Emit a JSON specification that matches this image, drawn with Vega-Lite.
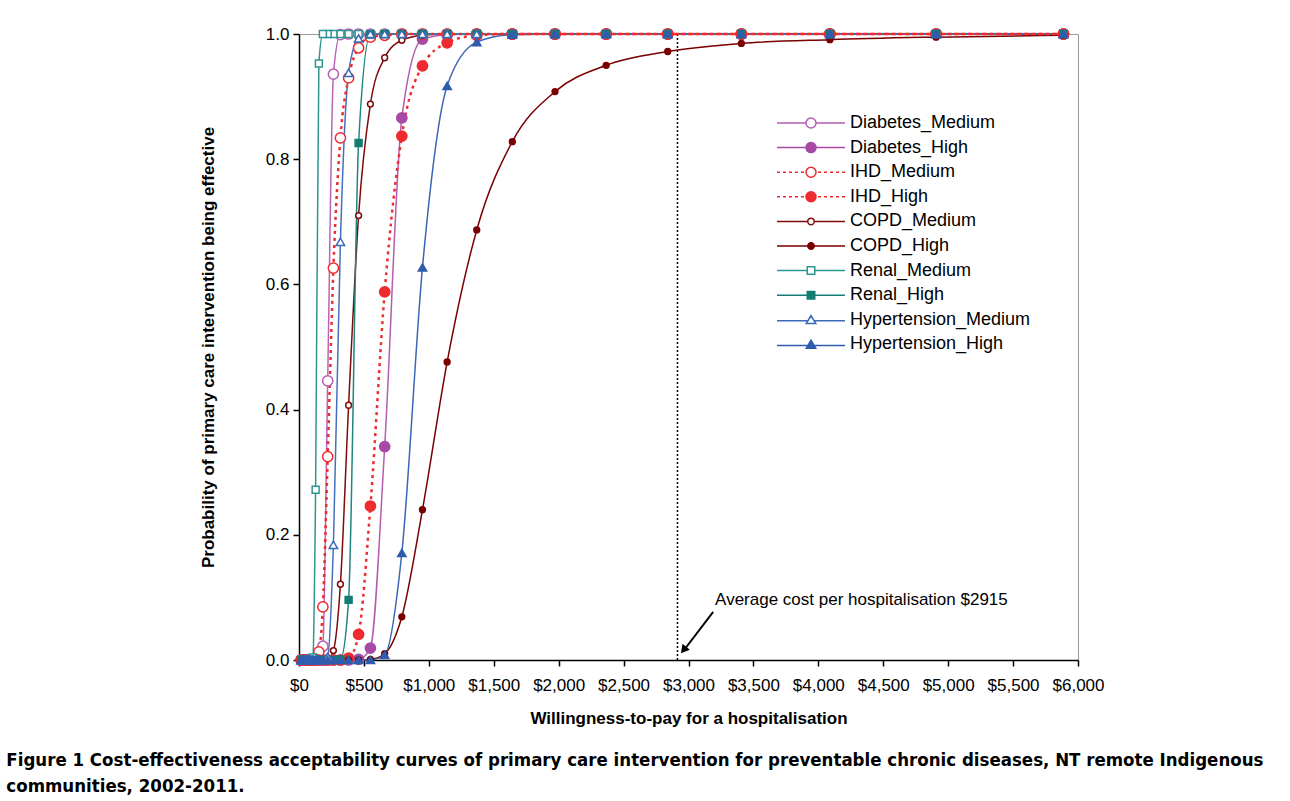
{
  "$schema": "https://vega.github.io/schema/vega-lite/v6.json",
  "width": 779,
  "height": 626,
  "autosize": {"type": "none"},
  "padding": {"left": 299, "top": 34, "right": 212, "bottom": 141},
  "background": "white",
  "config": {
    "view": {"stroke": "#9a9a9a", "strokeWidth": 1},
    "legend": {
      "orient": "none",
      "legendX": 503,
      "legendY": 80,
      "padding": 0,
      "labelFont": "Liberation Sans",
      "labelFontSize": 18,
      "labelColor": "#000000",
      "labelLimit": 0,
      "rowPadding": 6.6,
      "labelOffset": 30,
      "symbolSize": 100,
      "symbolOpacity": 1,
      "symbolStrokeWidth": 1.5
    }
  },
  "title": {
    "text": ["Figure 1 Cost-effectiveness acceptability curves of primary care intervention for preventable chronic diseases, NT remote Indigenous", "communities, 2002-2011."],
    "orient": "bottom",
    "anchor": "start",
    "frame": "bounds",
    "font": "DejaVu Sans Condensed, sans-serif",
    "fontSize": 18.5,
    "fontWeight": "bold",
    "lineHeight": 26,
    "offset": 25,
    "dx": -193,
    "color": "#000000"
  },
  "datasets": {
    "cea": [
      {"x": 5888, "Diabetes_Medium": 1, "Diabetes_High": 1, "IHD_Medium": 1, "IHD_High": 1, "COPD_Medium": 1, "COPD_High": 0.998, "Renal_Medium": 1, "Renal_High": 1, "Hypertension_Medium": 1, "Hypertension_High": 1},
      {"x": 4907, "Diabetes_Medium": 1, "Diabetes_High": 1, "IHD_Medium": 1, "IHD_High": 1, "COPD_Medium": 1, "COPD_High": 0.995, "Renal_Medium": 1, "Renal_High": 1, "Hypertension_Medium": 1, "Hypertension_High": 1},
      {"x": 4089, "Diabetes_Medium": 1, "Diabetes_High": 1, "IHD_Medium": 1, "IHD_High": 1, "COPD_Medium": 1, "COPD_High": 0.991, "Renal_Medium": 1, "Renal_High": 1, "Hypertension_Medium": 1, "Hypertension_High": 1},
      {"x": 3407, "Diabetes_Medium": 1, "Diabetes_High": 1, "IHD_Medium": 1, "IHD_High": 1, "COPD_Medium": 1, "COPD_High": 0.985, "Renal_Medium": 1, "Renal_High": 1, "Hypertension_Medium": 1, "Hypertension_High": 1},
      {"x": 2840, "Diabetes_Medium": 1, "Diabetes_High": 1, "IHD_Medium": 1, "IHD_High": 1, "COPD_Medium": 1, "COPD_High": 0.972, "Renal_Medium": 1, "Renal_High": 1, "Hypertension_Medium": 1, "Hypertension_High": 1},
      {"x": 2366, "Diabetes_Medium": 1, "Diabetes_High": 1, "IHD_Medium": 1, "IHD_High": 1, "COPD_Medium": 1, "COPD_High": 0.95, "Renal_Medium": 1, "Renal_High": 1, "Hypertension_Medium": 1, "Hypertension_High": 1},
      {"x": 1972, "Diabetes_Medium": 1, "Diabetes_High": 1, "IHD_Medium": 1, "IHD_High": 1, "COPD_Medium": 1, "COPD_High": 0.908, "Renal_Medium": 1, "Renal_High": 1, "Hypertension_Medium": 1, "Hypertension_High": 1},
      {"x": 1643, "Diabetes_Medium": 1, "Diabetes_High": 1, "IHD_Medium": 1, "IHD_High": 1, "COPD_Medium": 1, "COPD_High": 0.828, "Renal_Medium": 1, "Renal_High": 1, "Hypertension_Medium": 1, "Hypertension_High": 0.999},
      {"x": 1369, "Diabetes_Medium": 1, "Diabetes_High": 1, "IHD_Medium": 1, "IHD_High": 0.998, "COPD_Medium": 1, "COPD_High": 0.687, "Renal_Medium": 1, "Renal_High": 1, "Hypertension_Medium": 1, "Hypertension_High": 0.987},
      {"x": 1141, "Diabetes_Medium": 1, "Diabetes_High": 0.999, "IHD_Medium": 1, "IHD_High": 0.986, "COPD_Medium": 1, "COPD_High": 0.476, "Renal_Medium": 1, "Renal_High": 1, "Hypertension_Medium": 1, "Hypertension_High": 0.917},
      {"x": 951, "Diabetes_Medium": 1, "Diabetes_High": 0.992, "IHD_Medium": 1, "IHD_High": 0.949, "COPD_Medium": 0.998, "COPD_High": 0.24, "Renal_Medium": 1, "Renal_High": 1, "Hypertension_Medium": 1, "Hypertension_High": 0.627},
      {"x": 792, "Diabetes_Medium": 1, "Diabetes_High": 0.866, "IHD_Medium": 1, "IHD_High": 0.837, "COPD_Medium": 0.99, "COPD_High": 0.069, "Renal_Medium": 1, "Renal_High": 1, "Hypertension_Medium": 1, "Hypertension_High": 0.171},
      {"x": 660, "Diabetes_Medium": 1, "Diabetes_High": 0.341, "IHD_Medium": 0.998, "IHD_High": 0.588, "COPD_Medium": 0.962, "COPD_High": 0.01, "Renal_Medium": 1, "Renal_High": 1, "Hypertension_Medium": 1, "Hypertension_High": 0.008},
      {"x": 550, "Diabetes_Medium": 1, "Diabetes_High": 0.019, "IHD_Medium": 0.995, "IHD_High": 0.246, "COPD_Medium": 0.888, "COPD_High": 0.001, "Renal_Medium": 1, "Renal_High": 0.999, "Hypertension_Medium": 1, "Hypertension_High": 0},
      {"x": 459, "Diabetes_Medium": 1, "Diabetes_High": 0.001, "IHD_Medium": 0.978, "IHD_High": 0.041, "COPD_Medium": 0.71, "COPD_High": 0, "Renal_Medium": 1, "Renal_High": 0.826, "Hypertension_Medium": 0.993, "Hypertension_High": 0},
      {"x": 382, "Diabetes_Medium": 1, "Diabetes_High": 0, "IHD_Medium": 0.93, "IHD_High": 0.003, "COPD_Medium": 0.407, "COPD_High": 0, "Renal_Medium": 1, "Renal_High": 0.096, "Hypertension_Medium": 0.938, "Hypertension_High": 0},
      {"x": 319, "Diabetes_Medium": 0.999, "Diabetes_High": 0, "IHD_Medium": 0.834, "IHD_High": 0, "COPD_Medium": 0.121, "COPD_High": 0, "Renal_Medium": 1, "Renal_High": 0.001, "Hypertension_Medium": 0.668, "Hypertension_High": 0},
      {"x": 265, "Diabetes_Medium": 0.936, "Diabetes_High": 0, "IHD_Medium": 0.626, "IHD_High": 0, "COPD_Medium": 0.015, "COPD_High": 0, "Renal_Medium": 1, "Renal_High": 0, "Hypertension_Medium": 0.184, "Hypertension_High": 0},
      {"x": 221, "Diabetes_Medium": 0.446, "Diabetes_High": 0, "IHD_Medium": 0.325, "IHD_High": 0, "COPD_Medium": 0.001, "COPD_High": 0, "Renal_Medium": 1, "Renal_High": 0, "Hypertension_Medium": 0.005, "Hypertension_High": 0},
      {"x": 184, "Diabetes_Medium": 0.022, "Diabetes_High": 0, "IHD_Medium": 0.085, "IHD_High": 0, "COPD_Medium": 0, "COPD_High": 0, "Renal_Medium": 1, "Renal_High": 0, "Hypertension_Medium": 0, "Hypertension_High": 0},
      {"x": 153, "Diabetes_Medium": 0.001, "Diabetes_High": 0, "IHD_Medium": 0.013, "IHD_High": 0, "COPD_Medium": 0, "COPD_High": 0, "Renal_Medium": 0.953, "Renal_High": 0, "Hypertension_Medium": 0, "Hypertension_High": 0},
      {"x": 128, "Diabetes_Medium": 0, "Diabetes_High": 0, "IHD_Medium": 0.001, "IHD_High": 0, "COPD_Medium": 0, "COPD_High": 0, "Renal_Medium": 0.272, "Renal_High": 0, "Hypertension_Medium": 0, "Hypertension_High": 0},
      {"x": 107, "Diabetes_Medium": 0, "Diabetes_High": 0, "IHD_Medium": 0, "IHD_High": 0, "COPD_Medium": 0, "COPD_High": 0, "Renal_Medium": 0.004, "Renal_High": 0, "Hypertension_Medium": 0, "Hypertension_High": 0},
      {"x": 89, "Diabetes_Medium": 0, "Diabetes_High": 0, "IHD_Medium": 0, "IHD_High": 0, "COPD_Medium": 0, "COPD_High": 0, "Renal_Medium": 0, "Renal_High": 0, "Hypertension_Medium": 0, "Hypertension_High": 0},
      {"x": 74, "Diabetes_Medium": 0, "Diabetes_High": 0, "IHD_Medium": 0, "IHD_High": 0, "COPD_Medium": 0, "COPD_High": 0, "Renal_Medium": 0, "Renal_High": 0, "Hypertension_Medium": 0, "Hypertension_High": 0},
      {"x": 62, "Diabetes_Medium": 0, "Diabetes_High": 0, "IHD_Medium": 0, "IHD_High": 0, "COPD_Medium": 0, "COPD_High": 0, "Renal_Medium": 0, "Renal_High": 0, "Hypertension_Medium": 0, "Hypertension_High": 0},
      {"x": 52, "Diabetes_Medium": 0, "Diabetes_High": 0, "IHD_Medium": 0, "IHD_High": 0, "COPD_Medium": 0, "COPD_High": 0, "Renal_Medium": 0, "Renal_High": 0, "Hypertension_Medium": 0, "Hypertension_High": 0},
      {"x": 43, "Diabetes_Medium": 0, "Diabetes_High": 0, "IHD_Medium": 0, "IHD_High": 0, "COPD_Medium": 0, "COPD_High": 0, "Renal_Medium": 0, "Renal_High": 0, "Hypertension_Medium": 0, "Hypertension_High": 0},
      {"x": 36, "Diabetes_Medium": 0, "Diabetes_High": 0, "IHD_Medium": 0, "IHD_High": 0, "COPD_Medium": 0, "COPD_High": 0, "Renal_Medium": 0, "Renal_High": 0, "Hypertension_Medium": 0, "Hypertension_High": 0},
      {"x": 30, "Diabetes_Medium": 0, "Diabetes_High": 0, "IHD_Medium": 0, "IHD_High": 0, "COPD_Medium": 0, "COPD_High": 0, "Renal_Medium": 0, "Renal_High": 0, "Hypertension_Medium": 0, "Hypertension_High": 0},
      {"x": 25, "Diabetes_Medium": 0, "Diabetes_High": 0, "IHD_Medium": 0, "IHD_High": 0, "COPD_Medium": 0, "COPD_High": 0, "Renal_Medium": 0, "Renal_High": 0, "Hypertension_Medium": 0, "Hypertension_High": 0},
      {"x": 21, "Diabetes_Medium": 0, "Diabetes_High": 0, "IHD_Medium": 0, "IHD_High": 0, "COPD_Medium": 0, "COPD_High": 0, "Renal_Medium": 0, "Renal_High": 0, "Hypertension_Medium": 0, "Hypertension_High": 0},
      {"x": 17, "Diabetes_Medium": 0, "Diabetes_High": 0, "IHD_Medium": 0, "IHD_High": 0, "COPD_Medium": 0, "COPD_High": 0, "Renal_Medium": 0, "Renal_High": 0, "Hypertension_Medium": 0, "Hypertension_High": 0}
    ]
  },
  "encoding": {
    "x": {
      "field": "x",
      "type": "quantitative",
      "scale": {"domain": [0, 6000], "nice": false, "zero": true},
      "axis": {
        "title": "Willingness-to-pay for a hospitalisation",
        "values": [0, 500, 1000, 1500, 2000, 2500, 3000, 3500, 4000, 4500, 5000, 5500, 6000],
        "format": "$,.0f",
        "grid": false,
        "labelFont": "Liberation Sans",
        "labelFontSize": 17,
        "labelColor": "#000000",
        "labelPadding": 11,
        "labelFlush": false,
        "labelOverlap": false,
        "titleFont": "Liberation Sans",
        "titleFontSize": 17,
        "titleFontWeight": "bold",
        "titleColor": "#000000",
        "titlePadding": 17,
        "domainColor": "#000000",
        "domainWidth": 1.5,
        "tickColor": "#000000",
        "tickWidth": 1.5,
        "tickSize": 6
      }
    },
    "y": {
      "field": "y",
      "type": "quantitative",
      "scale": {"domain": [0, 1], "nice": false},
      "axis": {
        "title": "Probability of primary care intervention being effective",
        "values": [0, 0.2, 0.4, 0.6, 0.8, 1],
        "format": ".1f",
        "grid": false,
        "labelFont": "Liberation Sans",
        "labelFontSize": 17,
        "labelColor": "#000000",
        "labelPadding": 4,
        "labelFlush": false,
        "labelOverlap": false,
        "titleFont": "Liberation Sans",
        "titleFontSize": 17,
        "titleFontWeight": "bold",
        "titleColor": "#000000",
        "titlePadding": 48,
        "domainColor": "#000000",
        "domainWidth": 1.5,
        "tickColor": "#000000",
        "tickWidth": 1.5,
        "tickSize": 6
      }
    }
  },
  "resolve": {"scale": {"fill": "independent", "stroke": "independent", "shape": "independent"}},
  "layer": [
    {
      "data": {"values": [{"x": 2915, "y": 0, "y2": 1}]},
      "mark": {"type": "rule", "color": "#000000", "strokeWidth": 1.5, "strokeDash": [2, 2]},
      "encoding": {"y2": {"field": "y2"}}
    },
    {
      "data": {"name": "cea"},
      "transform": [{"fold": ["Diabetes_Medium", "Diabetes_High", "IHD_Medium", "IHD_High", "COPD_Medium", "COPD_High", "Renal_Medium", "Renal_High", "Hypertension_Medium", "Hypertension_High"], "as": ["series", "y"]}],
      "encoding": {
        "color": {
          "field": "series", "type": "nominal", "legend": null,
          "scale": {
            "domain": ["Hypertension_High", "Hypertension_Medium", "Renal_High", "Renal_Medium", "COPD_High", "COPD_Medium", "IHD_High", "IHD_Medium", "Diabetes_High", "Diabetes_Medium"],
            "range": ["#3A66B5", "#4470BE", "#1F857E", "#2C968E", "#7A0000", "#7E0B0B", "#EE2B2F", "#EE2B2F", "#B35CB0", "#B866B5"]
          }
        }
      },
      "layer": [
        {
          "transform": [{"filter": "indexof(datum.series, 'IHD') !== 0"}],
          "mark": {"type": "line", "interpolate": "monotone", "strokeWidth": 1.5}
        },
        {
          "transform": [{"filter": "indexof(datum.series, 'IHD') === 0"}],
          "mark": {"type": "line", "interpolate": "monotone", "strokeWidth": 2.5, "strokeDash": [3, 4]}
        }
      ]
    },
    {
      "data": {"name": "cea"},
      "transform": [{"fold": ["Diabetes_Medium", "Diabetes_High", "IHD_Medium", "IHD_High", "COPD_Medium", "COPD_High", "Renal_Medium", "Renal_High", "Hypertension_Medium", "Hypertension_High"], "as": ["series", "y"]}],
      "encoding": {
        "shape": {
          "field": "series", "type": "nominal", "legend": null,
          "scale": {
            "domain": ["Diabetes_Medium", "Diabetes_High", "IHD_Medium", "IHD_High", "COPD_Medium", "COPD_High", "Renal_Medium", "Renal_High", "Hypertension_Medium", "Hypertension_High"],
            "range": ["circle", "circle", "circle", "circle", "circle", "circle", "square", "square", "triangle-up", "triangle-up"]
          }
        },
        "fill": {
          "field": "series", "type": "nominal", "legend": null,
          "scale": {
            "domain": ["Diabetes_Medium", "Diabetes_High", "IHD_Medium", "IHD_High", "COPD_Medium", "COPD_High", "Renal_Medium", "Renal_High", "Hypertension_Medium", "Hypertension_High"],
            "range": ["#FFFFFF", "#A84AA5", "#FFFFFF", "#EE2B2F", "#FFFFFF", "#7A0000", "#FFFFFF", "#137C75", "#FFFFFF", "#2F5DAE"]
          }
        },
        "stroke": {
          "field": "series", "type": "nominal", "legend": null,
          "scale": {
            "domain": ["Diabetes_Medium", "Diabetes_High", "IHD_Medium", "IHD_High", "COPD_Medium", "COPD_High", "Renal_Medium", "Renal_High", "Hypertension_Medium", "Hypertension_High"],
            "range": ["#B55DB2", "#A84AA5", "#EE2B2F", "#EE2B2F", "#7E0B0B", "#7A0000", "#2C968E", "#137C75", "#3B68B8", "#2F5DAE"]
          }
        }
      },
      "layer": [
        {
          "transform": [{"filter": "indexof(datum.series, 'Diabetes') === 0 || indexof(datum.series, 'IHD') === 0"}],
          "mark": {"type": "point", "filled": true, "opacity": 1, "strokeWidth": 1.5, "size": 105}
        },
        {
          "transform": [{"filter": "indexof(datum.series, 'COPD') === 0"}],
          "mark": {"type": "point", "filled": true, "opacity": 1, "strokeWidth": 1.5, "size": 34}
        },
        {
          "transform": [{"filter": "indexof(datum.series, 'Renal') === 0"}],
          "mark": {"type": "point", "filled": true, "opacity": 1, "strokeWidth": 1.5, "size": 48}
        },
        {
          "transform": [{"filter": "indexof(datum.series, 'Hyper') === 0"}],
          "mark": {"type": "point", "filled": true, "opacity": 1, "strokeWidth": 1.5, "size": 70}
        }
      ]
    },
    {
      "data": {"values": [{"series": "Diabetes_Medium"}, {"series": "Diabetes_High"}, {"series": "IHD_Medium"}, {"series": "IHD_High"}, {"series": "COPD_Medium"}, {"series": "COPD_High"}, {"series": "Renal_Medium"}, {"series": "Renal_High"}, {"series": "Hypertension_Medium"}, {"series": "Hypertension_High"}]},
      "mark": {"type": "point", "filled": true, "opacity": 0, "strokeWidth": 1.5, "size": 100},
      "encoding": {
        "shape": {
          "field": "series", "type": "nominal", "legend": {"title": null},
          "scale": {
            "domain": ["Diabetes_Medium", "Diabetes_High", "IHD_Medium", "IHD_High", "COPD_Medium", "COPD_High", "Renal_Medium", "Renal_High", "Hypertension_Medium", "Hypertension_High"],
            "range": [
              "M-6.8,0H-1M1,0H6.8M1,0A1,1,0,1,1,-1,0A1,1,0,1,1,1,0Z",
              "M-6.8,0H-1M1,0H6.8M1,0A1,1,0,1,1,-1,0A1,1,0,1,1,1,0Z",
              "M-6.8,0H-6.2M-5.6,0H-5M-4.4,0H-3.8M-3.2,0H-2.6M-2,0H-1.4M1.4,0H2M2.6,0H3.2M3.8,0H4.4M5,0H5.6M6.2,0H6.8M1,0A1,1,0,1,1,-1,0A1,1,0,1,1,1,0Z",
              "M-6.8,0H-6.2M-5.6,0H-5M-4.4,0H-3.8M-3.2,0H-2.6M-2,0H-1.4M1.4,0H2M2.6,0H3.2M3.8,0H4.4M5,0H5.6M6.2,0H6.8M1,0A1,1,0,1,1,-1,0A1,1,0,1,1,1,0Z",
              "M-6.8,0H-0.65M0.65,0H6.8M0.65,0A0.65,0.65,0,1,1,-0.65,0A0.65,0.65,0,1,1,0.65,0Z",
              "M-6.8,0H-0.65M0.65,0H6.8M0.65,0A0.65,0.65,0,1,1,-0.65,0A0.65,0.65,0,1,1,0.65,0Z",
              "M-6.8,0H-0.75M0.75,0H6.8M-0.75,-0.75H0.75V0.75H-0.75Z",
              "M-6.8,0H-0.75M0.75,0H6.8M-0.75,-0.75H0.75V0.75H-0.75Z",
              "M-6.8,0.2H-0.6M0.6,0.2H6.8M0,-0.85L0.95,0.75L-0.95,0.75Z",
              "M-6.8,0.2H-0.6M0.6,0.2H6.8M0,-0.85L0.95,0.75L-0.95,0.75Z"
            ]
          }
        },
        "fill": {
          "field": "series", "type": "nominal", "legend": {"title": null},
          "scale": {
            "domain": ["Diabetes_Medium", "Diabetes_High", "IHD_Medium", "IHD_High", "COPD_Medium", "COPD_High", "Renal_Medium", "Renal_High", "Hypertension_Medium", "Hypertension_High"],
            "range": ["#FFFFFF", "#A84AA5", "#FFFFFF", "#EE2B2F", "#FFFFFF", "#7A0000", "#FFFFFF", "#137C75", "#FFFFFF", "#2F5DAE"]
          }
        },
        "stroke": {
          "field": "series", "type": "nominal", "legend": {"title": null},
          "scale": {
            "domain": ["Diabetes_Medium", "Diabetes_High", "IHD_Medium", "IHD_High", "COPD_Medium", "COPD_High", "Renal_Medium", "Renal_High", "Hypertension_Medium", "Hypertension_High"],
            "range": ["#B55DB2", "#A84AA5", "#EE2B2F", "#EE2B2F", "#7E0B0B", "#7A0000", "#2C968E", "#137C75", "#3B68B8", "#2F5DAE"]
          }
        }
      }
    },
    {
      "data": {"values": [{"x": 3190, "y": 0.077, "x2": 2966, "y2": 0.016}]},
      "mark": {"type": "rule", "color": "#000000", "strokeWidth": 2},
      "encoding": {"x2": {"field": "x2"}, "y2": {"field": "y2"}}
    },
    {
      "data": {"values": [{"x": 2962, "y": 0.016}]},
      "mark": {"type": "point", "shape": "triangle-up", "filled": true, "color": "#000000", "opacity": 1, "size": 90, "angle": 219}
    },
    {
      "data": {"values": [{"x": 3205, "y": 0.096, "label": "Average cost per hospitalisation $2915"}]},
      "mark": {"type": "text", "align": "left", "baseline": "middle", "font": "Liberation Sans", "fontSize": 17, "color": "#000000"},
      "encoding": {"text": {"field": "label"}}
    }
  ]
}
